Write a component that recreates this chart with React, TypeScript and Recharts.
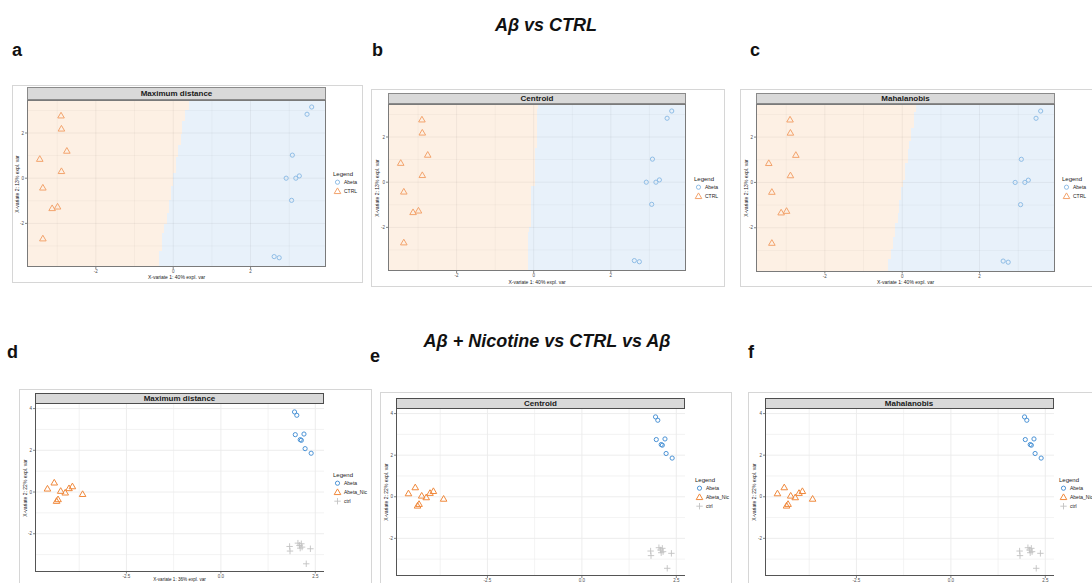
import React from 'react';
import { ScatterChart, Scatter, XAxis, YAxis, ReferenceArea, ReferenceLine } from 'recharts';

// ---------- DATA: A-beta vs CTRL (panels a, b, c) ----------
const ctrlTop = [
  { x: -2.90, y: 2.77 }, { x: -2.89, y: 2.19 }, { x: -2.75, y: 1.21 },
  { x: -3.45, y: 0.85 }, { x: -2.89, y: 0.31 }, { x: -3.37, y: -0.42 },
  { x: -3.13, y: -1.33 }, { x: -2.99, y: -1.26 }, { x: -3.37, y: -2.67 },
];
const abetaTop = [
  { x: 3.58, y: 3.15 }, { x: 3.46, y: 2.83 }, { x: 3.08, y: 1.02 },
  { x: 2.92, y: 0.0 }, { x: 3.17, y: 0.0 }, { x: 3.26, y: 0.10 },
  { x: 3.06, y: -0.98 }, { x: 2.61, y: -3.47 }, { x: 2.74, y: -3.52 },
];
// decision boundary steps: rows [yTop, yBottom] with boundary x
const boundaryMaxDist = [
  { y1: 3.46, y2: 3.02, x: 0.42 }, { y1: 3.02, y2: 2.55, x: 0.31 },
  { y1: 2.55, y2: 1.97, x: 0.24 }, { y1: 1.97, y2: 1.46, x: 0.19 },
  { y1: 1.46, y2: 0.92, x: 0.13 }, { y1: 0.92, y2: 0.22, x: 0.07 },
  { y1: 0.22, y2: -0.36, x: 0.0 }, { y1: -0.36, y2: -0.95, x: -0.07 },
  { y1: -0.95, y2: -1.53, x: -0.11 }, { y1: -1.53, y2: -2.04, x: -0.17 },
  { y1: -2.04, y2: -2.41, x: -0.23 }, { y1: -2.41, y2: -3.21, x: -0.29 },
  { y1: -3.21, y2: -3.93, x: -0.37 },
];
const boundaryCentroid = [
  { y1: 3.46, y2: 3.23, x: 0.12 }, { y1: 3.23, y2: 1.52, x: 0.08 },
  { y1: 1.52, y2: -0.19, x: 0.04 }, { y1: -0.19, y2: -1.98, x: -0.06 },
  { y1: -1.98, y2: -2.2, x: -0.12 }, { y1: -2.2, y2: -3.93, x: -0.15 },
];
const boundaryMahal = [
  { y1: 3.46, y2: 3.09, x: 0.36 }, { y1: 3.09, y2: 2.42, x: 0.30 },
  { y1: 2.42, y2: 1.83, x: 0.23 }, { y1: 1.83, y2: 1.46, x: 0.18 },
  { y1: 1.46, y2: 0.86, x: 0.14 }, { y1: 0.86, y2: 0.12, x: 0.08 },
  { y1: 0.12, y2: -0.18, x: 0.02 }, { y1: -0.18, y2: -0.77, x: -0.03 },
  { y1: -0.77, y2: -1.37, x: -0.08 }, { y1: -1.37, y2: -1.81, x: -0.12 },
  { y1: -1.81, y2: -2.41, x: -0.19 }, { y1: -2.41, y2: -2.93, x: -0.24 },
  { y1: -2.93, y2: -3.37, x: -0.30 }, { y1: -3.37, y2: -3.93, x: -0.37 },
];
const topXTicks = [-2, 0, 2];
const topYTicks = [2, 0, -2];
const topXGrid = [-3, -2, -1, 0, 1, 2, 3];
const topYGrid = [3, 2, 1, 0, -1, -2, -3];

// ---------- DATA: A-beta + Nicotine vs CTRL vs A-beta (panels d, e, f) ----------
const abetaBottom = [
  { x: 1.95, y: 3.84 }, { x: 2.01, y: 3.68 }, { x: 1.97, y: 2.75 },
  { x: 2.10, y: 2.51 }, { x: 2.13, y: 2.48 }, { x: 2.20, y: 2.78 },
  { x: 2.23, y: 2.08 }, { x: 2.39, y: 1.86 },
];
const abetaNicBottom = [
  { x: -4.59, y: 0.16 }, { x: -4.41, y: 0.45 }, { x: -4.24, y: 0.05 },
  { x: -4.35, y: -0.43 }, { x: -4.31, y: -0.35 }, { x: -4.12, y: -0.03 },
  { x: -4.02, y: 0.18 }, { x: -3.93, y: 0.27 }, { x: -3.66, y: -0.10 },
];
const ctrlBottom = [
  { x: 1.82, y: -2.61 }, { x: 1.83, y: -2.83 }, { x: 2.04, y: -2.45 },
  { x: 2.08, y: -2.56 }, { x: 2.13, y: -2.48 }, { x: 2.10, y: -2.69 },
  { x: 2.15, y: -2.64 }, { x: 2.37, y: -2.72 }, { x: 2.26, y: -3.44 },
];
const bottomXTicks = [-2.5, 0, 2.5];
const bottomYTicks = [4, 2, 0, -2];
const bottomXGrid = [-3.75, -2.5, -1.25, 0, 1.25, 2.5];
const bottomYGrid = [4, 3, 2, 1, 0, -1, -2, -3];

const FONT = '"Liberation Sans", Arial, Helvetica, sans-serif';

type Box = { l: number; t: number; r: number; b: number };
type Series = { name: string; data: { x: number; y: number }[]; kind: string; color: string };

const drawSymbol = (kind: string, color: string, cx: number, cy: number, key?: any) => {
  if (kind === 'circle') {
    return <circle key={key} cx={cx} cy={cy} r={2.1} fill="none" stroke={color} strokeWidth={1} />;
  }
  if (kind === 'triangle') {
    const s = 3.3;
    return (
      <polygon key={key}
        points={`${cx},${cy - s} ${cx + s},${cy + s * 0.72} ${cx - s},${cy + s * 0.72}`}
        fill="none" stroke={color} strokeWidth={1} strokeLinejoin="round" />
    );
  }
  const s = 3.2;
  return (
    <g key={key} stroke={color} strokeWidth={0.9}>
      <line x1={cx - s} y1={cy} x2={cx + s} y2={cy} />
      <line x1={cx} y1={cy - s} x2={cx} y2={cy + s} />
    </g>
  );
};

const makeShape = (kind: string, color: string) => (props: any) => {
  const { cx, cy } = props;
  if (cx == null || cy == null) return <g />;
  return drawSymbol(kind, color, cx, cy);
};

type PanelProps = {
  frame: Box; strip: Box; plot: Box;
  title: string;
  xDomain: [number, number]; yDomain: [number, number];
  xTicks: number[]; yTicks: number[]; xGrid: number[]; yGrid: number[];
  xFmt?: (v: number) => string;
  series: Series[];
  boundary?: { y1: number; y2: number; x: number }[];
  legendPos: { x: number; y: number };
  xLabel?: string; xLabelY?: number; xLabelSize?: number;
  yLabel: string; yLabelX: number;
  dark: boolean;
};

const Panel = (p: PanelProps) => {
  const yAxisW = 10;
  const xAxisH = 12;
  const plotW = p.plot.r - p.plot.l;
  const plotH = p.plot.b - p.plot.t;
  const gridColor = p.dark ? '#EBEBEB' : 'rgba(0,0,0,0.06)';
  const xFmt = p.xFmt || ((v: number) => String(v));
  const yFmt = (v: number) => String(v);
  const borderStyle: React.CSSProperties = p.dark
    ? { borderLeft: '1.4px solid #555', borderBottom: '1.4px solid #555' }
    : { border: '1px solid #7a7a7a' };
  return (
    <>
      <div style={{ position: 'absolute', left: p.frame.l, top: p.frame.t, width: p.frame.r - p.frame.l, height: p.frame.b - p.frame.t, border: '1px solid #d6d6d6', boxSizing: 'border-box', background: '#fff' }} />
      <div style={{ position: 'absolute', left: p.plot.l - yAxisW, top: p.plot.t }}>
        <ScatterChart width={plotW + yAxisW} height={plotH + xAxisH} margin={{ top: 0, right: 0, bottom: 0, left: 0 }}>
          <XAxis type="number" dataKey="x" domain={p.xDomain} ticks={p.xTicks} allowDataOverflow
            height={xAxisH} axisLine={false} tickLine={{ stroke: '#333', strokeWidth: 0.6 }} tickSize={2} tickMargin={1}
            tick={{ fontSize: 4.5, fill: '#4d4d4d', fontFamily: FONT }} tickFormatter={xFmt} interval={0} />
          <YAxis type="number" dataKey="y" domain={p.yDomain} ticks={p.yTicks} allowDataOverflow
            width={yAxisW} axisLine={false} tickLine={{ stroke: '#333', strokeWidth: 0.6 }} tickSize={2} tickMargin={1}
            tick={{ fontSize: 4.5, fill: '#4d4d4d', fontFamily: FONT }} tickFormatter={yFmt} interval={0} />
          {p.boundary && p.boundary.map((s, i) => (
            <ReferenceArea key={'o' + i} x1={p.xDomain[0]} x2={s.x} y1={s.y2} y2={s.y1}
              fill="#FDF0E4" fillOpacity={1} stroke="none" ifOverflow="hidden" shapeRendering="crispEdges" />
          ))}
          {p.boundary && p.boundary.map((s, i) => (
            <ReferenceArea key={'b' + i} x1={s.x} x2={p.xDomain[1]} y1={s.y2} y2={s.y1}
              fill="#E8F1FA" fillOpacity={1} stroke="none" ifOverflow="hidden" shapeRendering="crispEdges" />
          ))}
          {p.xGrid.map((v) => (
            <ReferenceLine key={'gx' + v} x={v} stroke={gridColor} strokeWidth={p.xTicks.includes(v) ? 0.9 : 0.6} />
          ))}
          {p.yGrid.map((v) => (
            <ReferenceLine key={'gy' + v} y={v} stroke={gridColor} strokeWidth={p.yTicks.includes(v) ? 0.9 : 0.6} />
          ))}
          {p.series.map((s) => (
            <Scatter key={s.name} name={s.name} data={s.data} isAnimationActive={false}
              shape={makeShape(s.kind, s.color)} />
          ))}
        </ScatterChart>
      </div>
      <div style={{ position: 'absolute', left: p.plot.l, top: p.plot.t, width: plotW, height: plotH, boxSizing: 'border-box', pointerEvents: 'none', ...borderStyle }} />
      <div style={{ position: 'absolute', left: p.strip.l, top: p.strip.t, width: p.strip.r - p.strip.l, height: p.strip.b - p.strip.t,
        background: '#D9D9D9', border: `${p.dark ? 1.3 : 1}px solid ${p.dark ? '#4d4d4d' : '#8a8a8a'}`, boxSizing: 'border-box',
        display: 'flex', alignItems: 'center', justifyContent: 'center', fontFamily: FONT, fontWeight: 'bold', fontSize: 8, color: '#1a1a1a' }}>
        {p.title}
      </div>
      {p.xLabel && (
        <div style={{ position: 'absolute', left: p.plot.l, width: plotW, top: (p.xLabelY || 0) - 3, textAlign: 'center', fontFamily: FONT, fontSize: p.xLabelSize || 5, color: '#222', lineHeight: '6px' }}>
          {p.xLabel}
        </div>
      )}
      <div style={{ position: 'absolute', left: p.yLabelX - 60, top: (p.plot.t + p.plot.b) / 2 - 4, width: 120, textAlign: 'center', transform: 'rotate(-90deg)', fontFamily: FONT, fontSize: 5, color: '#222', lineHeight: '8px' }}>
        {p.yLabel}
      </div>
      <div style={{ position: 'absolute', left: p.legendPos.x, top: p.legendPos.y, fontFamily: FONT, color: '#222' }}>
        <div style={{ fontSize: 6, lineHeight: '8px' }}>Legend</div>
        {p.series.map((s) => (
          <div key={s.name} style={{ display: 'flex', alignItems: 'center', height: 8.8, fontSize: 5, whiteSpace: 'nowrap' }}>
            <svg width={9} height={8} style={{ marginRight: 2 }}>{drawSymbol(s.kind, s.color, 4.5, 4.2)}</svg>
            <span>{s.name}</span>
          </div>
        ))}
      </div>
    </>
  );
};

const TOPX: [number, number] = [-3.78, 3.95];
const TOPY: [number, number] = [-3.93, 3.46];
const BOTX: [number, number] = [-4.92, 2.73];
const BOTY: [number, number] = [-3.81, 4.22];

const topSeries: Series[] = [
  { name: 'Abeta', data: abetaTop, kind: 'circle', color: '#8FBDE6' },
  { name: 'CTRL', data: ctrlTop, kind: 'triangle', color: '#F3A36C' },
];
const bottomSeries: Series[] = [
  { name: 'Abeta', data: abetaBottom, kind: 'circle', color: '#4B93D6' },
  { name: 'Abeta_Nic', data: abetaNicBottom, kind: 'triangle', color: '#F0893C' },
  { name: 'ctrl', data: ctrlBottom, kind: 'cross', color: '#C2C2C2' },
];

const fmt1 = (v: number) => v.toFixed(1);

const letterStyle = (x: number, y: number): React.CSSProperties => ({
  position: 'absolute', left: x, top: y, fontFamily: FONT, fontWeight: 'bold', fontSize: 18, color: '#111', lineHeight: '20px',
});

export default function App() {
  return (
    <div style={{ position: 'absolute', left: 0, top: 0, width: 1092, height: 583, background: '#fff', overflow: 'hidden' }}>
      <div style={{ position: 'absolute', left: 0, width: 1092, top: 14, textAlign: 'center', fontFamily: FONT, fontWeight: 'bold', fontStyle: 'italic', fontSize: 18, color: '#111', lineHeight: '22px' }}>
        Aβ vs CTRL
      </div>
      <div style={{ position: 'absolute', left: 0, width: 1094, top: 330, textAlign: 'center', fontFamily: FONT, fontWeight: 'bold', fontStyle: 'italic', fontSize: 18, color: '#111', lineHeight: '22px' }}>
        Aβ + Nicotine vs CTRL vs Aβ
      </div>
      <div style={letterStyle(12, 40)}>a</div>
      <div style={letterStyle(372, 40)}>b</div>
      <div style={letterStyle(750, 40)}>c</div>
      <div style={letterStyle(7, 342)}>d</div>
      <div style={letterStyle(370, 346)}>e</div>
      <div style={letterStyle(748, 342)}>f</div>

      <Panel frame={{ l: 12, t: 85, r: 363, b: 283 }} strip={{ l: 27, t: 87, r: 326, b: 100 }} plot={{ l: 27, t: 100, r: 326, b: 267 }}
        title="Maximum distance" xDomain={TOPX} yDomain={TOPY} xTicks={topXTicks} yTicks={topYTicks} xGrid={topXGrid} yGrid={topYGrid}
        series={topSeries} boundary={boundaryMaxDist} legendPos={{ x: 333, y: 170 }}
        xLabel="X-variate 1: 40% expl. var" xLabelY={277} yLabel="X-variate 2: 13% expl. var" yLabelX={17} dark={false} />
      <Panel frame={{ l: 371, t: 89, r: 725, b: 287 }} strip={{ l: 388, t: 92.5, r: 686, b: 104 }} plot={{ l: 388, t: 104, r: 686, b: 271 }}
        title="Centroid" xDomain={TOPX} yDomain={TOPY} xTicks={topXTicks} yTicks={topYTicks} xGrid={topXGrid} yGrid={topYGrid}
        series={topSeries} boundary={boundaryCentroid} legendPos={{ x: 694, y: 175 }}
        xLabel="X-variate 1: 40% expl. var" xLabelY={281.5} yLabel="X-variate 2: 13% expl. var" yLabelX={377} dark={false} />
      <Panel frame={{ l: 740, t: 89, r: 1100, b: 287 }} strip={{ l: 756, t: 92.5, r: 1055, b: 104 }} plot={{ l: 756, t: 104, r: 1055, b: 271.5 }}
        title="Mahalanobis" xDomain={TOPX} yDomain={TOPY} xTicks={topXTicks} yTicks={topYTicks} xGrid={topXGrid} yGrid={topYGrid}
        series={topSeries} boundary={boundaryMahal} legendPos={{ x: 1062, y: 175 }}
        xLabel="X-variate 1: 40% expl. var" xLabelY={281.5} yLabel="X-variate 2: 13% expl. var" yLabelX={746} dark={false} />

      <Panel frame={{ l: 19, t: 389, r: 372, b: 600 }} strip={{ l: 35, t: 392.5, r: 324, b: 404 }} plot={{ l: 35, t: 404, r: 324, b: 571.5 }}
        title="Maximum distance" xDomain={BOTX} yDomain={BOTY} xTicks={bottomXTicks} yTicks={bottomYTicks} xGrid={bottomXGrid} yGrid={bottomYGrid}
        xFmt={fmt1} series={bottomSeries} legendPos={{ x: 333, y: 471 }}
        xLabel="X-variate 1: 36% expl. var" xLabelY={580.3} xLabelSize={4.6} yLabel="X-variate 2: 22% expl. var" yLabelX={25} dark={true} />
      <Panel frame={{ l: 380, t: 392, r: 732, b: 600 }} strip={{ l: 396, t: 397.5, r: 685, b: 408.5 }} plot={{ l: 396, t: 408.5, r: 685, b: 575.5 }}
        title="Centroid" xDomain={BOTX} yDomain={BOTY} xTicks={bottomXTicks} yTicks={bottomYTicks} xGrid={bottomXGrid} yGrid={bottomYGrid}
        xFmt={fmt1} series={bottomSeries} legendPos={{ x: 695, y: 476 }}
        yLabel="X-variate 2: 22% expl. var" yLabelX={386} dark={true} />
      <Panel frame={{ l: 748, t: 392, r: 1100, b: 600 }} strip={{ l: 764.5, t: 397.5, r: 1053.5, b: 408.5 }} plot={{ l: 764.5, t: 408.5, r: 1053.5, b: 575.5 }}
        title="Mahalanobis" xDomain={BOTX} yDomain={BOTY} xTicks={bottomXTicks} yTicks={bottomYTicks} xGrid={bottomXGrid} yGrid={bottomYGrid}
        xFmt={fmt1} series={bottomSeries} legendPos={{ x: 1059, y: 476 }}
        yLabel="X-variate 2: 22% expl. var" yLabelX={754} dark={true} />
    </div>
  );
}
